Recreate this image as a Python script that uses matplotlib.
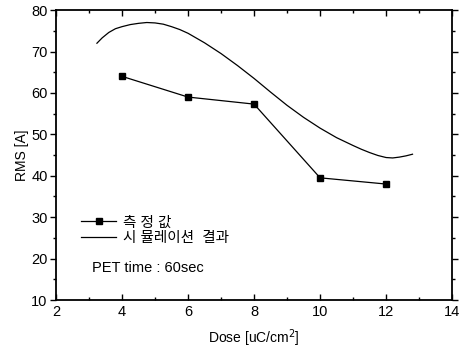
import matplotlib
matplotlib.use("Agg")
import matplotlib.pyplot as plt

plt.rcParams['font.family'] = ['Liberation Sans', 'Noto Sans CJK KR', 'DejaVu Sans']

# measured values
dose_meas = [4, 6, 8, 10, 12]
rms_meas = [64, 59, 57.3, 39.5, 38]

# simulation curve
dose_sim = [3.24, 3.4, 3.6, 3.8, 4.0, 4.25, 4.5, 4.75, 5.0, 5.25, 5.5, 5.75, 6.0, 6.5, 7.0, 7.5,
            8.0, 8.5, 9.0, 9.5, 10.0, 10.5, 11.0, 11.25, 11.5, 11.75, 12.0, 12.2, 12.4, 12.6, 12.8]
rms_sim = [72.0, 73.3, 74.6, 75.5, 76.0, 76.5, 76.8, 77.0, 76.9, 76.6, 76.0, 75.3, 74.4, 72.1, 69.5, 66.6,
           63.5, 60.2, 57.0, 54.1, 51.5, 49.2, 47.3, 46.4, 45.6, 44.9, 44.4, 44.3, 44.5, 44.8, 45.2]

fig = plt.figure(figsize=(4.59, 3.54), dpi=100)
ax = fig.add_axes([0.122, 0.1525, 0.863, 0.819])

ax.plot(dose_meas, rms_meas, color='black', lw=0.9, marker='s', ms=4.5, label='측 정 값')
ax.plot(dose_sim, rms_sim, color='black', lw=0.9, label='시 뮬레이션  결과')

ax.set_xlim(2, 14)
ax.set_ylim(10, 80)
ax.set_xticks([2, 4, 6, 8, 10, 12, 14])
ax.set_yticks([10, 20, 30, 40, 50, 60, 70, 80])
ax.set_xticks([3, 5, 7, 9, 11, 13], minor=True)
ax.set_yticks([15, 25, 35, 45, 55, 65, 75], minor=True)
ax.tick_params(axis='both', which='both', labelsize=10.5, top=True, right=True, direction='in')
ax.tick_params(axis='y', which='both', left=True, direction='out', pad=2)
ax.tick_params(which='major', length=4, width=1)
ax.tick_params(which='minor', length=2.5, width=1)
for s in ax.spines.values():
    s.set_linewidth(1.3)

ax.set_xlabel('Dose [uC/cm$^2$]', fontsize=10, labelpad=6)
ax.set_ylabel('RMS [A]', fontsize=10, labelpad=2)

ax.legend(loc='lower left', bbox_to_anchor=(0.045, 0.165), frameon=False, fontsize=10.5,
          handlelength=2.4, handletextpad=0.5, labelspacing=0.1, borderpad=0)
ax.text(0.09, 0.095, 'PET time : 60sec', transform=ax.transAxes, fontsize=10.5)

plt.savefig('out.png', dpi=100)
